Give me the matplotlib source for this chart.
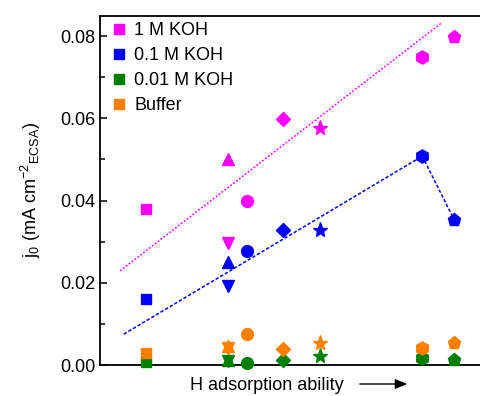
#!/usr/bin/env python3
"""Exchange current density vs H adsorption ability for several electrolytes."""

import matplotlib
matplotlib.use('Agg')
import matplotlib.pyplot as plt
from matplotlib.lines import Line2D
from matplotlib.ticker import MultipleLocator

# catalysts ordered by H adsorption ability (x is a relative scale, no units)
x_pos = [1.0, 2.0, 2.0, 2.23, 2.67, 3.12, 4.37, 4.76]
markers = ['s', '^', 'v', 'o', 'D', '*', 'h', 'p']

series_names = ['1 M KOH', '0.1 M KOH', '0.01 M KOH', 'Buffer']
j0_1m = [0.038, 0.050, 0.0297, 0.040, 0.0598, 0.0577, 0.0749, 0.0798]
j0_01m = [0.016, 0.025, 0.0192, 0.0277, 0.0328, 0.0328, 0.0508, 0.0353]
j0_001m = [0.0007, 0.0013, 0.0010, 0.0006, 0.0012, 0.0022, 0.0017, 0.0012]
j0_buffer = [0.0029, 0.0046, 0.0042, 0.0075, 0.0039, 0.0054, 0.0041, 0.0054]

# guide lines
fit_1m_x = [0.684, 4.61]
fit_1m_y = [0.0229, 0.0833]
fit_01m_x = [0.73, 4.37, 4.76]
fit_01m_y = [0.0075, 0.0508, 0.0353]

colors = ['#ff00ff', '#0000ff', '#008000', '#ff8000']

plt.rcParams['font.family'] = ['Liberation Sans', 'DejaVu Sans']
plt.rcParams['mathtext.fontset'] = 'custom'
plt.rcParams['mathtext.rm'] = 'Liberation Sans'
plt.rcParams['mathtext.it'] = 'Liberation Sans:italic'
plt.rcParams['font.size'] = 13

fig = plt.figure(figsize=(4.8, 3.96), dpi=100)
ax = fig.add_axes([100 / 480, 31 / 396, 390 / 480, 349 / 396])

ax.plot(fit_1m_x, fit_1m_y, color=colors[0], linestyle=(0, (1.2, 1.2)), linewidth=1.1)
ax.plot(fit_01m_x, fit_01m_y, color=colors[1], linestyle=(0, (2.2, 1.3)), linewidth=1.1)

all_series = [j0_1m, j0_01m, j0_001m, j0_buffer]
sizes = {'s': 7.5, '^': 8.5, 'v': 8.5, 'o': 8.5, 'D': 7.5, '*': 11, 'h': 9.5, 'p': 9.5}
for vals, c in zip(all_series, colors):
    for x, y, m in zip(x_pos, vals, markers):
        ax.plot(x, y, marker=m, color=c, markersize=sizes[m], linestyle='none',
                clip_on=False, zorder=3)

ax.set_xlim(0.44, 0.44 + 390 / 82)
ax.set_ylim(0, 0.0849)
ax.yaxis.set_major_locator(MultipleLocator(0.02))
ax.yaxis.set_minor_locator(MultipleLocator(0.01))
ax.yaxis.set_major_formatter(matplotlib.ticker.FormatStrFormatter('%.2f'))
ax.tick_params(axis='y', which='major', direction='in', length=5, width=1.1)
ax.tick_params(axis='y', which='minor', direction='in', length=3.6, width=1.1)
ax.set_xticks([])
for side in ['left', 'top', 'bottom', 'right']:
    ax.spines[side].set_linewidth(1.3)

ax.set_ylabel(r'j$_0$ (mA cm$^{-2}{}_{\mathregular{ECSA}}$)', labelpad=12)

handles = [Line2D([], [], marker='s', color=c, linestyle='none', markersize=7.5)
           for c in colors]
ax.legend(handles, series_names, loc='upper left', bbox_to_anchor=(0.023, 0.991),
          frameon=False, handlelength=0.8, handletextpad=0.45, labelspacing=0.45,
          borderaxespad=0.0, borderpad=0.15)

fig.text(190 / 480, 1 - 385 / 396, 'H adsorption ability', ha='left', va='center')
fig.patches.append(matplotlib.patches.FancyArrowPatch(
    (357 / 480, 1 - 384 / 396), (410 / 480, 1 - 384 / 396),
    transform=fig.transFigure, arrowstyle='-|>,head_length=0.6,head_width=0.25',
    color='black', linewidth=1.0, mutation_scale=12))

plt.savefig('out.png', format='png', dpi=100)
